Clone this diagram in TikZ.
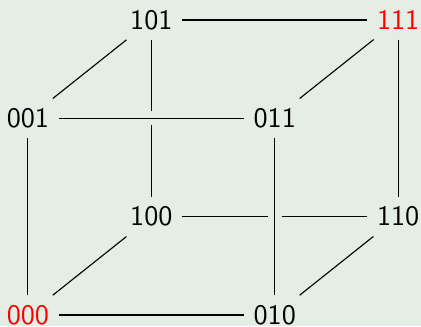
\documentclass[tikz,border=0pt]{standalone}
\usepackage{tikz}
\definecolor{bgcol}{RGB}{228,238,228}

\begin{document}
\begin{tikzpicture}
[
x=43.8pt, y=34.9pt,
every node/.style={font=\sffamily},
front/.style={preaction={draw=bgcol, line width=5pt}}
]
\fill[bgcol] (-9.9pt,-3.9pt) rectangle (139.5pt,111.8pt);
\useasboundingbox (-9.9pt,-3.9pt) rectangle (139.5pt,111.8pt);

% front face
\node (n000) at (0,0) [text=red] {000};
\node (n010) at (2,0) {010};
\node (n001) at (0,2) {001};
\node (n011) at (2,2) {011};
% back face
\node (n100) at (1,1) {100};
\node (n110) at (3,1) {110};
\node (n101) at (1,3) {101};
\node (n111) at (3,3) [text=red] {111};

\draw (n101) -- (n111);
\draw (n111) -- (n110);
\draw (n110) -- (n100);
\draw (n100) -- (n101);

\draw (n000) -- (n100);
\draw (n010) -- (n110);
\draw (n001) -- (n101);
\draw (n011) -- (n111);

\draw[front] (n001) -- (n011);
\draw[front] (n011) -- (n010);
\draw[front] (n010) -- (n000);
\draw[front] (n000) -- (n001);
\end{tikzpicture}
\end{document}
